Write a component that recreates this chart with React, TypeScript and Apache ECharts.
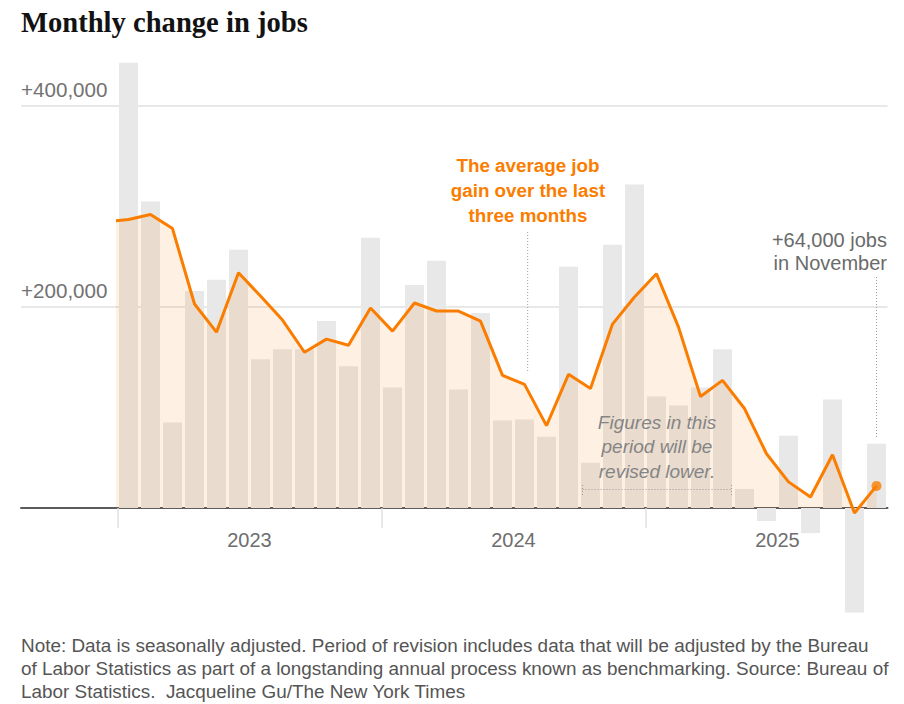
import React, { useEffect, useRef } from 'react';
import * as echarts from 'echarts';

// Months shown (Jan 2023 – Nov 2025)
const months = [
  'Jan 2023', 'Feb 2023', 'Mar 2023', 'Apr 2023', 'May 2023', 'Jun 2023',
  'Jul 2023', 'Aug 2023', 'Sep 2023', 'Oct 2023', 'Nov 2023', 'Dec 2023',
  'Jan 2024', 'Feb 2024', 'Mar 2024', 'Apr 2024', 'May 2024', 'Jun 2024',
  'Jul 2024', 'Aug 2024', 'Sep 2024', 'Oct 2024', 'Nov 2024', 'Dec 2024',
  'Jan 2025', 'Feb 2025', 'Mar 2025', 'Apr 2025', 'May 2025', 'Jun 2025',
  'Jul 2025', 'Aug 2025', 'Sep 2025', 'Oct 2025', 'Nov 2025',
];

// Monthly change in jobs (grey bars)
const jobs = [
  443000, 305000, 85000, 216000, 227000, 257000,
  148000, 158000, 158000, 186000, 141000, 269000,
  120000, 222000, 246000, 118000, 194000, 87000,
  88000, 71000, 240000, 45000, 262000, 322000,
  111000, 102000, 120000, 158000, 19000, -13000,
  72000, -25000, 108000, -104000, 64000,
];

// Average job gain over the last three months (orange line)
const avg3 = [
  287000, 292000, 278000, 203000, 175000, 234000,
  211000, 187000, 155000, 168000, 162000, 199000,
  176000, 204000, 196000, 196000, 186000, 132000,
  123000, 82000, 133000, 119000, 183000, 210000,
  233000, 180000, 111000, 127000, 99000, 54000,
  26000, 11000, 53000, -5000, 22000,
];

// Dec 2022 three-month average (only its clipped segment at the left edge is visible)
const priorAvg = 285000;

const years = ['2023', '2024', '2025'];
const yearStarts = [-0.5, 11.5, 23.5];
const yearMids = [5.5, 17.5, 29.5];

export default function App() {
  const ref = useRef<HTMLDivElement>(null);

  useEffect(() => {
    const chart = echarts.init(ref.current as HTMLDivElement, null, { renderer: 'svg' });
    const sans = "'Liberation Sans', Arial, sans-serif";
    const serif = "'Liberation Serif', 'DejaVu Serif', serif";
    const orange = '#fa7d00';
    const dotted = { stroke: '#9a9a9a', lineWidth: 1, lineDash: [1, 2] };

    // layout of the two overlaid grids
    const outerLeft = 21;
    const plotLeft = 117.5;
    const right = 16.5;
    const band = (904 - right - plotLeft) / months.length;
    const outerMin = -0.5 - (plotLeft - outerLeft) / band;

    chart.setOption({
      animation: false,
      grid: [
        { left: outerLeft, right, top: 106, height: 402 },
        { left: plotLeft, right, top: 55.75, height: 562.8 },
      ],
      xAxis: [
        {
          gridIndex: 0,
          type: 'value',
          min: outerMin,
          max: months.length - 0.5,
          axisLine: { show: true, onZero: false, lineStyle: { color: '#5c5c5c', width: 2 } },
          axisTick: {
            show: true,
            customValues: yearStarts,
            length: 20,
            lineStyle: { color: '#e0e0e0', width: 1.5 },
          },
          axisLabel: {
            show: true,
            customValues: yearMids,
            formatter: (v: number) => years[Math.round((v - 5.5) / 12)] || '',
            fontSize: 20,
            color: '#6e6e6e',
            margin: 22,
            fontFamily: sans,
          },
          splitLine: { show: false },
        },
        {
          gridIndex: 1,
          type: 'value',
          min: -0.5,
          max: months.length - 0.5,
          show: false,
        },
      ],
      yAxis: [
        {
          gridIndex: 0,
          type: 'value',
          min: 0,
          max: 400000,
          interval: 200000,
          axisLine: { show: false },
          axisTick: { show: false },
          splitLine: { show: true, lineStyle: { color: '#e8e8e8', width: 2 } },
          axisLabel: {
            inside: true,
            margin: 0,
            formatter: (v: number) => (v === 0 ? '' : '+' + v.toLocaleString('en-US')),
            verticalAlign: 'bottom',
            padding: [0, 0, 6, 0],
            fontSize: 20.6,
            color: '#727272',
            fontFamily: sans,
          },
        },
        {
          gridIndex: 1,
          type: 'value',
          min: -110000,
          max: 450000,
          show: false,
        },
      ],
      series: [
        {
          type: 'bar',
          xAxisIndex: 1,
          yAxisIndex: 1,
          barWidth: 19,
          itemStyle: { color: '#e8e8e8' },
          data: jobs.map((v, i) => ({ name: months[i], value: [i, v] })),
          z: 2,
        },
        {
          type: 'line',
          xAxisIndex: 1,
          yAxisIndex: 1,
          clip: true,
          showSymbol: false,
          symbol: 'none',
          lineStyle: { color: orange, width: 3 },
          areaStyle: { color: 'rgba(250,125,0,0.15)' },
          data: [[-1, priorAvg], ...avg3.map((v, i) => [i, v])],
          z: 3,
        },
        {
          type: 'scatter',
          xAxisIndex: 1,
          yAxisIndex: 1,
          symbolSize: 10,
          itemStyle: { color: orange },
          data: [[avg3.length - 1, avg3[avg3.length - 1]]],
          z: 4,
        },
      ],
      graphic: [
        {
          type: 'text',
          left: 21,
          top: 8,
          z: 100,
          style: {
            text: 'Monthly change in jobs',
            fontFamily: serif,
            fontWeight: 'bold',
            fontSize: 28.6,
            fill: '#121212',
          },
        },
        {
          type: 'text',
          x: 528,
          y: 190,
          z: 100,
          style: {
            text: 'The average job\ngain over the last\nthree months',
            fontFamily: sans,
            fontWeight: 'bold',
            fontSize: 18.8,
            lineHeight: 25,
            fill: orange,
            align: 'center',
            verticalAlign: 'middle',
          },
        },
        { type: 'line', z: 100, shape: { x1: 527.7, y1: 232, x2: 527.7, y2: 373 }, style: dotted },
        {
          type: 'text',
          x: 887,
          y: 251.5,
          z: 100,
          style: {
            text: '+64,000 jobs\nin November',
            fontFamily: sans,
            fontSize: 20,
            lineHeight: 23,
            fill: '#6a6a6a',
            align: 'right',
            verticalAlign: 'middle',
          },
        },
        { type: 'line', z: 100, shape: { x1: 876.5, y1: 277, x2: 876.5, y2: 439 }, style: dotted },
        {
          type: 'text',
          x: 657,
          y: 446.5,
          z: 100,
          style: {
            text: 'Figures in this\nperiod will be\nrevised lower.',
            fontFamily: sans,
            fontStyle: 'italic',
            fontSize: 19,
            lineHeight: 24.5,
            fill: '#858585',
            align: 'center',
            verticalAlign: 'middle',
          },
        },
        { type: 'line', z: 100, shape: { x1: 582.5, y1: 489.5, x2: 731.5, y2: 489.5 }, style: dotted },
        { type: 'line', z: 100, shape: { x1: 582.5, y1: 485, x2: 582.5, y2: 495 }, style: dotted },
        { type: 'line', z: 100, shape: { x1: 731.5, y1: 485, x2: 731.5, y2: 495 }, style: dotted },
        {
          type: 'text',
          x: 21,
          y: 668,
          z: 100,
          style: {
            text:
              'Note: Data is seasonally adjusted. Period of revision includes data that will be adjusted by the Bureau\n' +
              'of Labor Statistics as part of a longstanding annual process known as benchmarking. Source: Bureau of\n' +
              'Labor Statistics.  Jacqueline Gu/The New York Times',
            fontFamily: sans,
            fontSize: 18.9,
            lineHeight: 23,
            fill: '#555555',
            align: 'left',
            verticalAlign: 'middle',
          },
        },
      ],
    });

    return () => {
      chart.dispose();
    };
  }, []);

  return (
    <div
      ref={ref}
      style={{ position: 'absolute', left: 0, top: 0, width: 904, height: 704 }}
    />
  );
}
